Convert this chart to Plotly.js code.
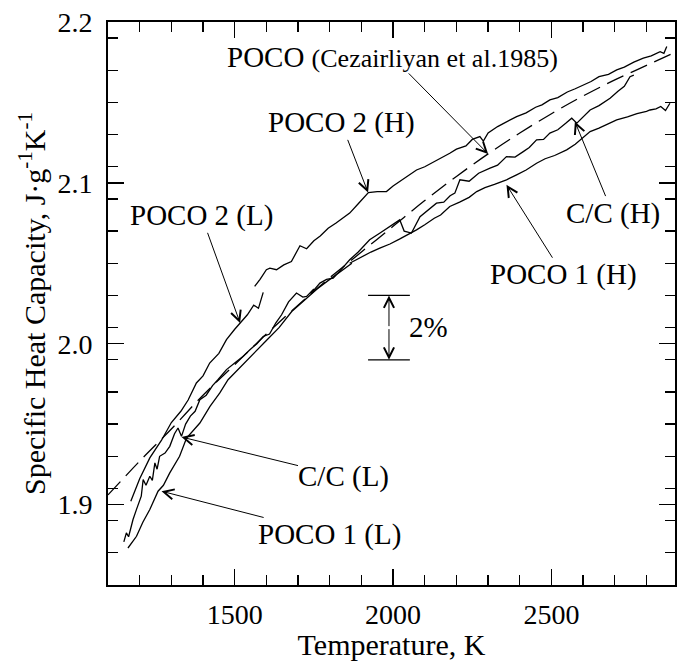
<!DOCTYPE html>
<html><head><meta charset="utf-8">
<script src="https://cdn.plot.ly/plotly-3.0.1.min.js"></script>
<style>html,body{margin:0;padding:0;background:#fff}#chart{width:678px;height:661px}</style>
</head><body><div id="chart"></div>
<script>
// Cezairliyan et al. 1985 (dashed reference)
const cezT  = [1100,1200,1300,1400,1500,1600,1700,1800,1900,2000,2100,2200,2300,2400,2500,2600,2700,2800,2900];
const cezCp = [1.906,1.927,1.947,1.968,1.987,2.006,2.024,2.041,2.057,2.073,2.089,2.104,2.118,2.131,2.143,2.154,2.164,2.173,2.182];

// POCO 2 (L)
const poco2LT  = [1172,1200,1232,1269,1300,1330,1353,1379,1400,1421,1450,1474,1500,1517,1540,1560,1575,1590];
const poco2LCp = [1.902,1.916,1.929,1.940,1.951,1.958,1.965,1.9756,1.980,1.988,1.994,2.0025,2.009,2.0129,2.018,2.024,2.022,2.0319];

// POCO 2 (H)
const poco2HT  = [1563,1580,1600,1611,1632,1655,1679,1706,1727,1750,1770,1795,1820,1840,1863,1890,1922,1950,1979,2000,2030,2074,2100,2130,2150,2179,2200,2230,2250,2274,2285,2300,2330,2360,2390,2420,2450,2470,2495,2520,2550,2575,2600,2625,2650,2680,2706,2730,2760,2790,2815,2843,2855,2864];
const poco2HCp = [2.0356,2.040,2.046,2.047,2.046,2.049,2.0511,2.0609,2.059,2.064,2.067,2.0718,2.075,2.078,2.0812,2.087,2.094,2.0945,2.0946,2.098,2.102,2.108,2.110,2.113,2.1155,2.1184,2.121,2.123,2.127,2.1288,2.126,2.131,2.135,2.138,2.1412,2.1435,2.147,2.1485,2.1516,2.153,2.1565,2.1585,2.1609,2.163,2.166,2.1675,2.1702,2.172,2.175,2.1775,2.179,2.1816,2.1805,2.1847];

// C/C (L)
const ccLT  = [1150,1158,1165,1179,1190,1205,1211,1220,1232,1240,1248,1255,1263,1280,1295,1310,1321,1332,1345,1360,1375,1390,1410,1430,1447,1460,1474,1500,1526,1548,1570,1590,1610,1630,1648,1670,1695,1715,1727,1750];
const ccLCp = [1.8768,1.8824,1.880,1.8907,1.897,1.9052,1.9155,1.912,1.9176,1.915,1.9259,1.922,1.930,1.932,1.9362,1.944,1.9476,1.9424,1.950,1.955,1.958,1.9652,1.968,1.974,1.9776,1.981,1.9839,1.988,1.9921,1.9963,2.000,2.0045,2.006,2.013,2.018,2.026,2.0315,2.029,2.0294,2.034];

// C/C (H)
const ccHT  = [1740,1769,1790,1811,1840,1863,1890,1926,1960,1990,2021,2035,2058,2085,2110,2137,2160,2180,2195,2211,2240,2270,2306,2330,2358,2385,2411,2430,2453,2475,2495,2520,2545,2564,2580,2600,2622,2650,2685,2710,2730,2748,2760];
const ccHCp = [2.031,2.0377,2.040,2.0408,2.047,2.0522,2.057,2.0646,2.069,2.073,2.077,2.070,2.0688,2.079,2.083,2.0874,2.088,2.092,2.0936,2.1019,2.101,2.106,2.1091,2.111,2.1163,2.116,2.1194,2.122,2.1267,2.127,2.1309,2.133,2.137,2.1402,2.1371,2.141,2.1453,2.148,2.1526,2.157,2.160,2.166,2.167];

// POCO 1 (L)
const poco1LT  = [1163,1175,1190,1210,1232,1258,1275,1295,1310,1326,1348,1370,1390,1422,1453,1479,1510,1540,1570,1600,1640,1680,1720,1760,1800,1840,1870];
const poco1LCp = [1.873,1.876,1.8803,1.889,1.8969,1.9083,1.912,1.9197,1.925,1.930,1.9414,1.946,1.9507,1.961,1.9694,1.9776,1.984,1.990,1.996,2.002,2.010,2.020,2.027,2.034,2.040,2.046,2.050];

// POCO 1 (H)
const poco1HT  = [1863,1900,1930,1958,1990,2020,2050,2074,2100,2130,2150,2179,2210,2240,2264,2290,2320,2358,2390,2420,2453,2480,2510,2548,2575,2600,2622,2650,2680,2706,2740,2770,2800,2811,2830,2845,2860,2874];
const poco1HCp = [2.050,2.054,2.057,2.0594,2.062,2.065,2.068,2.0708,2.074,2.078,2.080,2.0853,2.088,2.091,2.0946,2.097,2.099,2.1019,2.105,2.108,2.1122,2.115,2.117,2.1205,2.124,2.128,2.1319,2.134,2.137,2.1391,2.141,2.143,2.1445,2.1453,2.146,2.1475,2.145,2.1495];

// Labels (text centre) and the points their arrows touch
const labelText  = ['POCO <span style="font-size:26px">(Cezairliyan et al.1985)</span>','POCO 2 (H)','POCO 2 (L)','C/C (H)','POCO 1 (H)','C/C (L)','POCO 1 (L)'];
const labelT     = [1998,1836,1395,2693,2537,1845,1800];
const labelCp    = [2.1783,2.1373,2.0795,2.0812,2.0429,1.9172,1.8814];
const arrowTipT   = [2300,1921,1517,2574,2358,1332,1269];
const arrowTipCp  = [2.118,2.094,2.0129,2.1381,2.0988,1.942,1.9083];

// 2% scale bar
const scaleT = 1987, scaleHalfWidth = 66, scaleTop = 2.03, scaleBottom = 1.99;
const scaleLabel = '2%', scaleLabelT = 2111, scaleLabelCp = 2.0105;

const font = 'Liberation Serif, Times New Roman, serif';
const lineW = 1.3;

function solid(x, y, name) {
  return {x: x, y: y, name: name, type: 'scatter', mode: 'lines',
          line: {color: '#000', width: lineW}, showlegend: false, hoverinfo: 'skip'};
}

const traces = [
  {x: cezT, y: cezCp, name: 'POCO (Cezairliyan et al.1985)', type: 'scatter', mode: 'lines',
   line: {color: '#000', width: lineW, dash: '18px,8px', shape: 'spline'}, showlegend: false},
  solid(poco2LT, poco2LCp, 'POCO 2 (L)'),
  solid(poco2HT, poco2HCp, 'POCO 2 (H)'),
  solid(ccLT, ccLCp, 'C/C (L)'),
  solid(ccHT, ccHCp, 'C/C (H)'),
  solid(poco1LT, poco1LCp, 'POCO 1 (L)'),
  solid(poco1HT, poco1HCp, 'POCO 1 (H)')
];

const annotations = [];
for (let i = 0; i < labelText.length; i++) {
  annotations.push({x: arrowTipT[i], y: arrowTipCp[i], xref: 'x', yref: 'y',
    ax: labelT[i], ay: labelCp[i], axref: 'x', ayref: 'y', text: labelText[i],
    showarrow: true, arrowhead: 5, arrowsize: 2.0, arrowwidth: 1.0, arrowcolor: '#000',
    borderpad: 0, font: {family: font, size: 29, color: '#000'}});
}
const scaleMid = (scaleTop + scaleBottom) / 2;
[scaleTop, scaleBottom].forEach(function (v) {
  annotations.push({x: scaleT, y: v, xref: 'x', yref: 'y', ax: scaleT, ay: scaleMid,
    axref: 'x', ayref: 'y', text: '', showarrow: true, arrowhead: 5, arrowsize: 2.0,
    arrowwidth: 1.0, arrowcolor: '#000'});
});
annotations.push({x: scaleLabelT, y: scaleLabelCp, xref: 'x', yref: 'y', text: scaleLabel,
  showarrow: false, font: {family: font, size: 29, color: '#000'}});

const shapes = [scaleTop, scaleBottom].map(function (v) {
  return {type: 'line', xref: 'x', yref: 'y', x0: scaleT - scaleHalfWidth, x1: scaleT + scaleHalfWidth,
          y0: v, y1: v, line: {color: '#000', width: 1.3}};
});

const layout = {
  width: 678, height: 661,
  margin: {l: 108, r: 3, t: 22, b: 76},
  paper_bgcolor: '#fff', plot_bgcolor: '#fff',
  font: {family: font, color: '#000', size: 28},
  showlegend: false,
  xaxis: {
    range: [1100, 2890], tickvals: [1500, 2000, 2500], ticktext: ['1500','2000','2500'],
    ticks: 'inside', ticklen: 16, tickwidth: 1.3, tickcolor: '#000',
    minor: {dtick: 100, tick0: 1100, ticks: 'inside', ticklen: 10, tickwidth: 1.3, tickcolor: '#000', showgrid: false},
    showline: true, linecolor: '#000', linewidth: 1.8, mirror: 'ticks', showgrid: false, zeroline: false,
    tickfont: {family: font, size: 28}, ticklabelstandoff: 4,
    title: {text: 'Temperature, K', font: {family: font, size: 30}, standoff: 0}
  },
  yaxis: {
    range: [1.85, 2.2], tickvals: [1.9, 2.0, 2.1, 2.2], ticktext: ['1.9','2.0','2.1','2.2'],
    ticks: 'inside', ticklen: 16, tickwidth: 1.3, tickcolor: '#000',
    minor: {dtick: 0.02, tick0: 1.85, ticks: 'inside', ticklen: 10, tickwidth: 1.3, tickcolor: '#000', showgrid: false},
    showline: true, linecolor: '#000', linewidth: 1.8, mirror: 'ticks', showgrid: false, zeroline: false,
    tickfont: {family: font, size: 28}, ticklabelstandoff: 8,
    title: {text: 'Specific Heat Capacity, J·g<sup>-1</sup>K<sup>-1</sup>', font: {family: font, size: 30}, standoff: 3}
  },
  annotations: annotations,
  shapes: shapes
};

Plotly.newPlot('chart', traces, layout, {staticPlot: true, displayModeBar: false});
</script>
</body></html>
